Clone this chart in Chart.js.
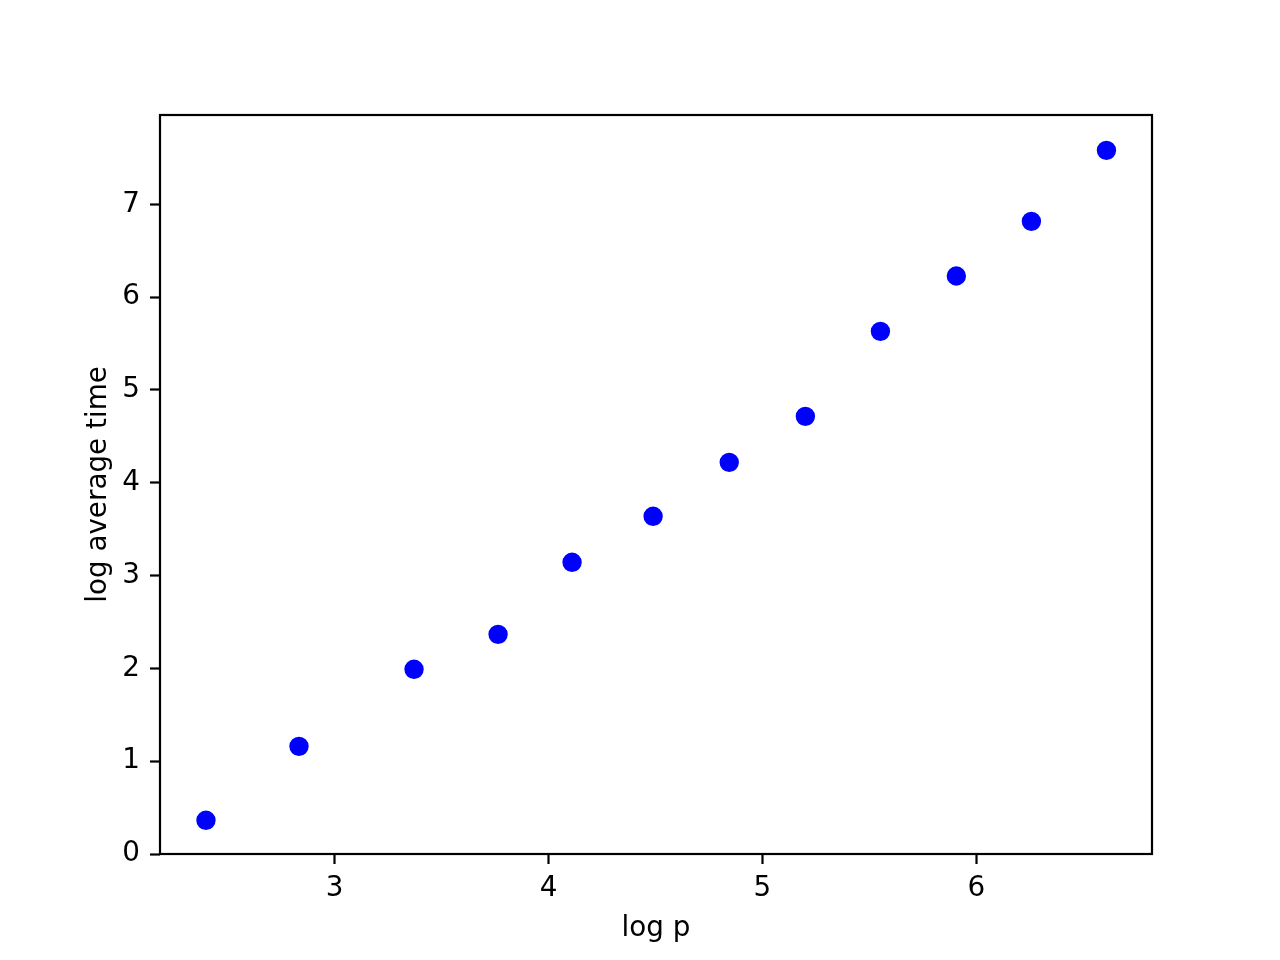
<!DOCTYPE html>
<html>
<head>
<meta charset="utf-8">
<script src="https://cdn.jsdelivr.net/npm/chart.js"></script>
<style>
  html, body { margin: 0; padding: 0; background: #fff; }
  canvas { display: block; }
</style>
</head>
<body>
<canvas id="scatter" width="1280" height="960"></canvas>
<script>
// values
const logP = [2.398, 2.833, 3.371, 3.764, 4.110, 4.489, 4.845, 5.201, 5.552, 5.907, 6.258, 6.609];
const logAvgTime = [0.363, 1.160, 1.990, 2.367, 3.143, 3.639, 4.220, 4.716, 5.632, 6.228, 6.817, 7.582];
const xTicks = [3, 4, 5, 6];
const yTicks = [0, 1, 2, 3, 4, 5, 6, 7];

const font = { family: "DejaVu Sans", size: 27.8 };

// draws the full box around the plot (matplotlib spines)
const frame = {
  id: "frame",
  afterDatasetsDraw(chart) {
    const { ctx, chartArea: a } = chart;
    ctx.save();
    ctx.strokeStyle = "#000";
    ctx.lineWidth = 2.2;
    ctx.strokeRect(a.left, a.top, a.right - a.left, a.bottom - a.top);
    ctx.restore();
  },
};

new Chart(document.getElementById("scatter"), {
  type: "scatter",
  data: {
    datasets: [
      {
        data: logP.map((x, i) => ({ x: x, y: logAvgTime[i] })),
        backgroundColor: "#0000ff",
        borderColor: "#0000ff",
        borderWidth: 2.8,
        pointRadius: 8.3,
        pointHoverRadius: 8.3,
      },
    ],
  },
  options: {
    responsive: false,
    animation: false,
    events: [],
    layout: { padding: { top: 115, right: 128, left: 0, bottom: 0 } },
    plugins: { legend: { display: false }, tooltip: { enabled: false } },
    scales: {
      x: {
        type: "linear",
        min: 2.183,
        max: 6.822,
        afterBuildTicks: (s) => { s.ticks = xTicks.map((v) => ({ value: v })); },
        afterFit: (s) => { s.height = 106; },
        border: { display: false },
        grid: { drawOnChartArea: false, drawTicks: true, tickLength: 10, tickWidth: 2.2, tickColor: "#000" },
        ticks: { color: "#000", font: font, padding: 8, maxRotation: 0 },
        title: { display: true, text: "log p", color: "#000", font: font, padding: { top: 0, bottom: 15 } },
      },
      y: {
        type: "linear",
        min: 0,
        max: 7.963,
        afterBuildTicks: (s) => { s.ticks = yTicks.map((v) => ({ value: v })); },
        afterFit: (s) => { s.width = 160; },
        border: { display: false },
        grid: { drawOnChartArea: false, drawTicks: true, tickLength: 10, tickWidth: 2.2, tickColor: "#000" },
        ticks: { color: "#000", font: font, padding: 10 },
        title: { display: true, text: "log average time", color: "#000", font: font, padding: { top: 82, bottom: 0 } },
      },
    },
  },
  plugins: [frame],
});
</script>
</body>
</html>
